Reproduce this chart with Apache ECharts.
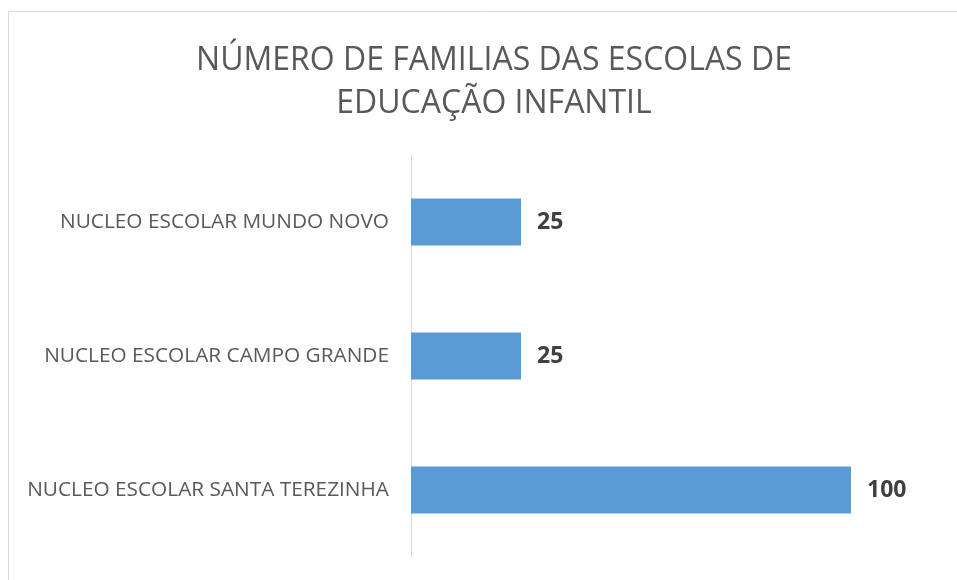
<!DOCTYPE html>
<html>
<head>
<meta charset="utf-8">
<script src="https://cdn.jsdelivr.net/npm/echarts@6/dist/echarts.min.js"></script>
<style>
  html, body { margin: 0; padding: 0; background: #fff; }
  #chart { width: 957px; height: 580px; }
</style>
</head>
<body>
<div id="chart"></div>
<script>
  // dados
  const escolas = ['NUCLEO ESCOLAR MUNDO NOVO', 'NUCLEO ESCOLAR CAMPO GRANDE', 'NUCLEO ESCOLAR SANTA TEREZINHA']
  const familias = [25, 25, 100]
  const titulo = 'NÚMERO DE FAMILIAS DAS ESCOLAS DE\nEDUCAÇÃO INFANTIL'

  const chart = echarts.init(document.getElementById('chart'))

  const option = {
    backgroundColor: '#fff',
    animation: false,
    title: {
      text: titulo,
      left: 489,
      textAlign: 'center',
      top: 34,
      textStyle: {
        fontFamily: 'Open Sans',
        fontWeight: 'normal',
        fontSize: 32,
        lineHeight: 43,
        color: '#595959',
      },
    },
    graphic: [
      {
        type: 'rect',
        shape: { x: 8.5, y: 11.5, width: 1000, height: 1000 },
        style: { fill: 'none', stroke: '#d9d9d9', lineWidth: 1 },
        silent: true,
      },
    ],
    grid: {
      left: 411,
      top: 155,
      width: 440,
      height: 402,
    },
    xAxis: {
      type: 'value',
      min: 0,
      max: 100,
      show: false,
    },
    yAxis: {
      type: 'category',
      data: escolas,
      inverse: true,
      axisLine: { show: true, lineStyle: { color: '#d9d9d9', width: 1 } },
      axisTick: { show: false },
      axisLabel: {
        margin: 22,
        fontFamily: 'Open Sans',
        fontSize: 20.8,
        color: '#595959',
      },
    },
    series: [
      {
        type: 'bar',
        data: familias,
        barWidth: 47,
        itemStyle: { color: '#5b9bd5' },
        label: {
          show: true,
          position: 'right',
          distance: 16,
          fontFamily: 'Open Sans',
          fontWeight: 'bold',
          fontSize: 23,
          color: '#404040',
        },
      },
    ],
  }

  chart.setOption(option)
</script>
</body>
</html>
